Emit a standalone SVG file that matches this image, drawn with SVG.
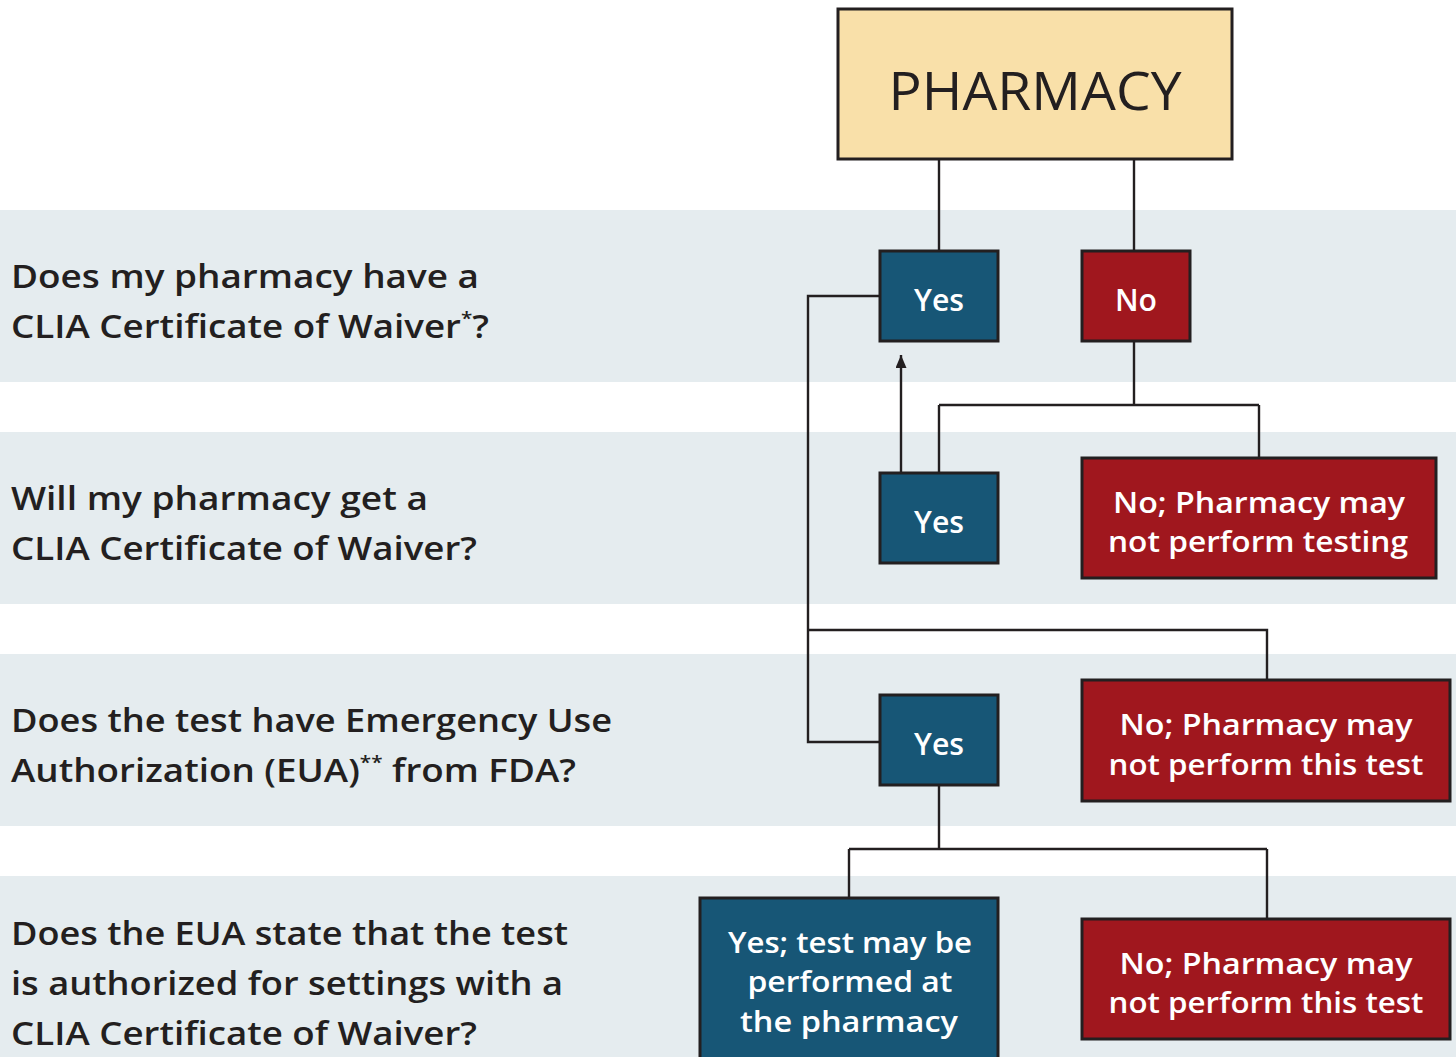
<svg xmlns="http://www.w3.org/2000/svg" width="1456" height="1057" viewBox="0 0 1456 1057">
<style>
.band{fill:#e5ecef}
.q{font-family:"Open Sans","DejaVu Sans",sans-serif;font-weight:600;font-size:32px;fill:#231f20}
.box{stroke:#231f20;stroke-width:3}
.blue{fill:#175676}
.red{fill:#a0171e}
.bt{font-family:"Open Sans","DejaVu Sans",sans-serif;font-weight:600;font-size:28px;fill:#ffffff;text-anchor:middle}
.yn{font-size:30px}
.conn{fill:none;stroke:#231f20;stroke-width:2.4}
.sup{font-size:18px}
</style>
<defs>
<marker id="arr" viewBox="0 0 13 11" refX="13" refY="5.5" markerWidth="13" markerHeight="11" markerUnits="userSpaceOnUse" orient="auto">
<path d="M0,0 L13,5.5 L0,11 z" fill="#231f20"/>
</marker>
</defs>
<rect width="1456" height="1057" fill="#ffffff"/>
<rect class="band" x="0" y="210" width="1456" height="172"/>
<rect class="band" x="0" y="432" width="1456" height="172"/>
<rect class="band" x="0" y="654" width="1456" height="172"/>
<rect class="band" x="0" y="876" width="1456" height="181"/>

<g id="q1">
<text class="q" x="11" y="288" textLength="468" lengthAdjust="spacingAndGlyphs">Does my pharmacy have a</text>
<text class="q" x="11" y="338" textLength="478" lengthAdjust="spacingAndGlyphs">CLIA Certificate of Waiver<tspan class="sup" dy="-13">*</tspan><tspan dy="13">?</tspan></text>
</g>
<g id="q2">
<text class="q" x="11" y="510" textLength="417" lengthAdjust="spacingAndGlyphs">Will my pharmacy get a</text>
<text class="q" x="11" y="560" textLength="466" lengthAdjust="spacingAndGlyphs">CLIA Certificate of Waiver?</text>
</g>
<g id="q3">
<text class="q" x="11" y="732" textLength="601" lengthAdjust="spacingAndGlyphs">Does the test have Emergency Use</text>
<text class="q" x="11" y="782" textLength="565" lengthAdjust="spacingAndGlyphs">Authorization (EUA)<tspan class="sup" dy="-13">**</tspan><tspan dy="13"> from FDA?</tspan></text>
</g>
<g id="q4">
<text class="q" x="11" y="945" textLength="557" lengthAdjust="spacingAndGlyphs">Does the EUA state that the test</text>
<text class="q" x="11" y="995" textLength="552" lengthAdjust="spacingAndGlyphs">is authorized for settings with a</text>
<text class="q" x="11" y="1045" textLength="466" lengthAdjust="spacingAndGlyphs">CLIA Certificate of Waiver?</text>
</g>

<g id="connectors">
<path class="conn" d="M939,159 V251"/>
<path class="conn" d="M1134,159 V251"/>
<path class="conn" d="M1134,341 V405 M939,405 H1259 M939,405 V473 M1259,405 V458"/>
<path class="conn" d="M901,473 V355" marker-end="url(#arr)"/>
<path class="conn" d="M880,296 H808 V742 H880"/>
<path class="conn" d="M808,630 H1267 V680"/>
<path class="conn" d="M939,785 V849 M849,849 H1267 M849,849 V898 M1267,849 V919"/>
</g>

<g id="pharmacy">
<rect class="box" x="838" y="9" width="394" height="150" fill="#f9e0a9"/>
<text x="1035" y="110" text-anchor="middle" font-family="Open Sans, DejaVu Sans, sans-serif" font-size="53" fill="#231f20" textLength="293" lengthAdjust="spacingAndGlyphs">PHARMACY</text>
</g>
<g id="yes1">
<rect class="box blue" x="880" y="251" width="118" height="90"/>
<text class="bt yn" x="939" y="311" textLength="50" lengthAdjust="spacingAndGlyphs">Yes</text>
</g>
<g id="no1">
<rect class="box red" x="1082" y="251" width="108" height="90"/>
<text class="bt yn" x="1136" y="311" textLength="42" lengthAdjust="spacingAndGlyphs">No</text>
</g>
<g id="yes2">
<rect class="box blue" x="880" y="473" width="118" height="90"/>
<text class="bt yn" x="939" y="533" textLength="50" lengthAdjust="spacingAndGlyphs">Yes</text>
</g>
<g id="no2">
<rect class="box red" x="1082" y="458" width="354" height="120"/>
<text class="bt" x="1259" y="513" textLength="292" lengthAdjust="spacingAndGlyphs">No; Pharmacy may</text>
<text class="bt" x="1258" y="552" textLength="300" lengthAdjust="spacingAndGlyphs">not perform testing</text>
</g>
<g id="yes3">
<rect class="box blue" x="880" y="695" width="118" height="90"/>
<text class="bt yn" x="939" y="755" textLength="50" lengthAdjust="spacingAndGlyphs">Yes</text>
</g>
<g id="no3">
<rect class="box red" x="1082" y="680" width="368" height="121"/>
<text class="bt" x="1266" y="735" textLength="293" lengthAdjust="spacingAndGlyphs">No; Pharmacy may</text>
<text class="bt" x="1266" y="775" textLength="315" lengthAdjust="spacingAndGlyphs">not perform this test</text>
</g>
<g id="yes4">
<rect class="box blue" x="700" y="898" width="298" height="175"/>
<text class="bt" x="850" y="953" textLength="244" lengthAdjust="spacingAndGlyphs">Yes; test may be</text>
<text class="bt" x="850" y="992" textLength="205" lengthAdjust="spacingAndGlyphs">performed at</text>
<text class="bt" x="849" y="1032" textLength="218" lengthAdjust="spacingAndGlyphs">the pharmacy</text>
</g>
<g id="no4">
<rect class="box red" x="1082" y="919" width="368" height="120"/>
<text class="bt" x="1266" y="974" textLength="293" lengthAdjust="spacingAndGlyphs">No; Pharmacy may</text>
<text class="bt" x="1266" y="1013" textLength="315" lengthAdjust="spacingAndGlyphs">not perform this test</text>
</g>
</svg>
